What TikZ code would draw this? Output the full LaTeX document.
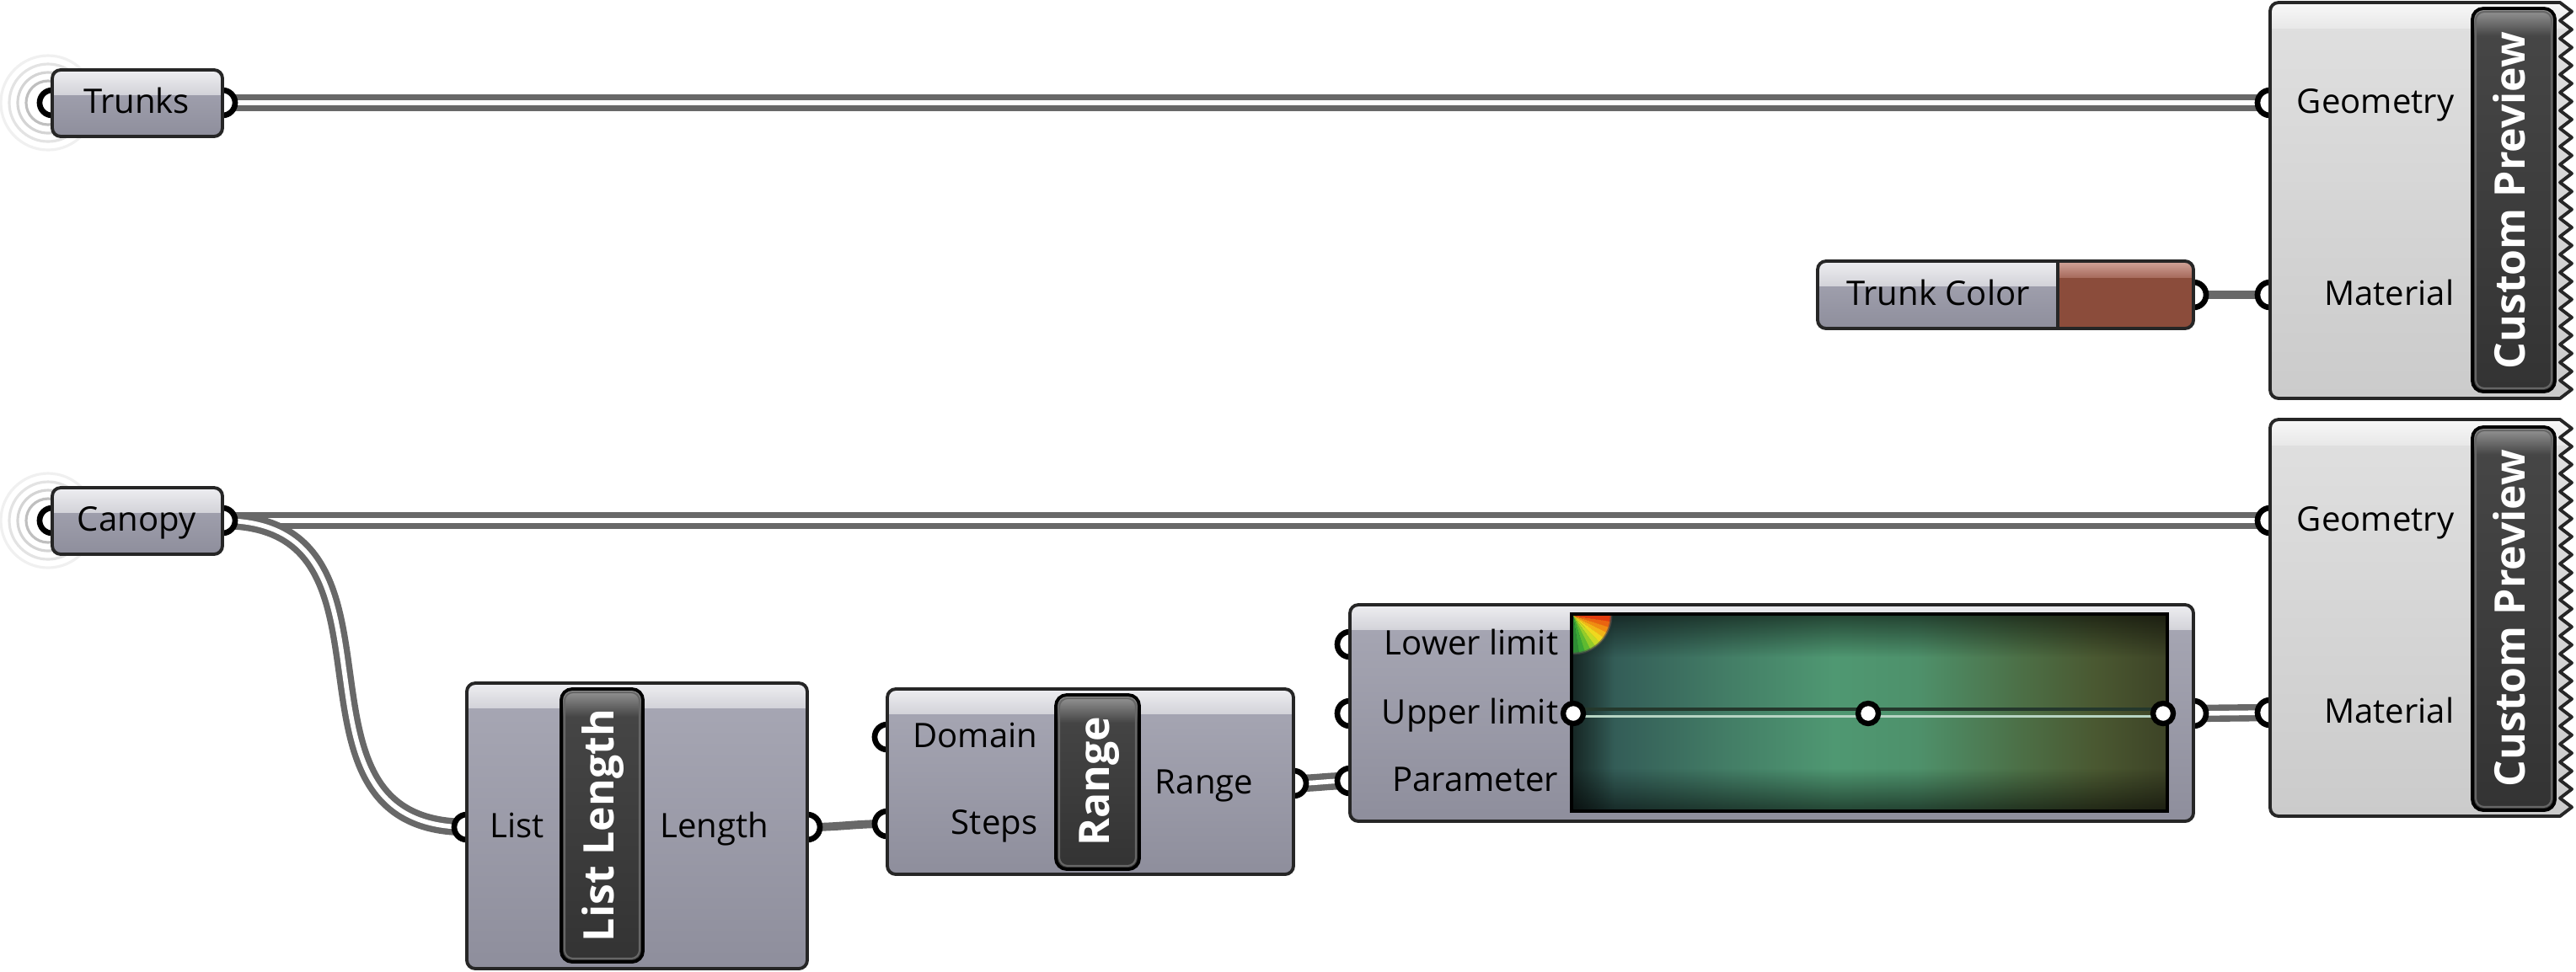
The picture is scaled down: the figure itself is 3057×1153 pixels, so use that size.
\documentclass[tikz,border=0pt]{standalone}
\usepackage{fontspec}
\setmainfont{Open Sans}
\usetikzlibrary{fadings}

\definecolor{wiregray}{HTML}{686868}
\definecolor{edge}{HTML}{262626}
\definecolor{bandtop}{HTML}{EEEEF1}
\definecolor{bandbot}{HTML}{D3D3D9}
\definecolor{bodytop}{HTML}{A8A8B5}
\definecolor{bodybot}{HTML}{8E8E9C}
\definecolor{cpbandtop}{HTML}{F8F8F8}
\definecolor{cpbandbot}{HTML}{E8E8E8}
\definecolor{cpbodytop}{HTML}{E0E0E0}
\definecolor{cpbodybot}{HTML}{CBCBCB}
\definecolor{tbtop}{HTML}{9A9A9A}
\definecolor{tbmid}{HTML}{474747}
\definecolor{tbbot}{HTML}{333333}
\definecolor{swatch}{HTML}{8B4C3B}
\definecolor{swatchtop}{HTML}{D2A69B}
\definecolor{swatchmid}{HTML}{A86C5E}
% colour field of the gradient component
\definecolor{g0}{HTML}{2D4E4A}
\definecolor{g1}{HTML}{345E58}
\definecolor{g2}{HTML}{437D66}
\definecolor{g3}{HTML}{4F9872}
\definecolor{g4}{HTML}{4E916B}
\definecolor{g5}{HTML}{4C6E45}
\definecolor{g6}{HTML}{4A5831}
\definecolor{g7}{HTML}{3D4326}
\definecolor{gdark}{HTML}{24382C}
\definecolor{glight}{HTML}{B7D4C3}
% rainbow corner
\definecolor{rb0}{HTML}{E23C0E}
\definecolor{rb1}{HTML}{EA6410}
\definecolor{rb2}{HTML}{F08C12}
\definecolor{rb3}{HTML}{F2B418}
\definecolor{rb4}{HTML}{EFD81E}
\definecolor{rb5}{HTML}{C8DA24}
\definecolor{rb6}{HTML}{94CC2A}
\definecolor{rb7}{HTML}{5EBA30}
\definecolor{rb8}{HTML}{3AA636}
\definecolor{rb9}{HTML}{2E8C34}

\pgfdeclarehorizontalshading{gradientfield}{100bp}{color(0bp)=(g0); color(25bp)=(g0); color(29bp)=(g1); color(38bp)=(g2); color(47bp)=(g3); color(54bp)=(g4); color(63bp)=(g5); color(69bp)=(g6); color(75bp)=(g7); color(100bp)=(g7)}

\tikzfading[name=edgetop, top color=transparent!45, bottom color=transparent!100]
\tikzfading[name=edgebottom, top color=transparent!100, bottom color=transparent!45]
\tikzfading[name=edgeleft, left color=transparent!50, right color=transparent!100]

\pgfdeclarelayer{bglayer}
\pgfdeclarelayer{wirelayer}
\pgfdeclarelayer{portlayer}
\pgfsetlayers{bglayer,wirelayer,portlayer,main}

\tikzset{
  port/.style={circle, draw=black, fill=white, line width=1.9pt, minimum size=0.3cm, inner sep=0pt},
  grip/.style={circle, draw=black, fill=white, line width=1.8pt, minimum size=0.24cm, inner sep=0pt},
  lbl/.style={font=\fontsize{11.4}{13}\selectfont, inner sep=0pt},
  ttl/.style={font=\fontsize{14.2}{16}\selectfont\bfseries, text=white, rotate=90, inner sep=0pt, anchor=mid},
  listwire/.style={draw=wiregray, line width=2.1pt, double=white, double distance=1.6pt},
  itemwire/.style={draw=wiregray, line width=2.8pt},
  outline/.style={draw=edge, line width=1.1pt},
}

% grey component body with its light top band
\newcommand\gbody[4]{%
  \begin{scope}
    \clip[rounded corners=0.1cm] (#1,#2) rectangle (#3,#4);
    \shade[top color=bodytop, bottom color=bodybot] (#1,#2) rectangle (#3,#4);
    \shade[top color=bandtop, bottom color=bandbot] (#1,#2) rectangle (#3,#2+29);
  \end{scope}
  \draw[outline, rounded corners=0.1cm] (#1,#2) rectangle (#3,#4);
}

% dark vertical title bar
\newcommand\gtitle[4]{%
  \begin{scope}
    \clip[rounded corners=0.13cm] (#1,#2) rectangle (#3,#4);
    \shade[top color=tbmid, bottom color=tbbot] (#1,#2) rectangle (#3,#4);
    \shade[top color=tbtop, bottom color=tbmid] (#1,#2) rectangle (#3,#2+32);
  \end{scope}
  \draw[black!60, line width=0.6pt, rounded corners=0.1cm] (#1+4,#2+4) rectangle (#3-4,#4-4);
  \draw[black, line width=1.1pt, rounded corners=0.13cm] (#1,#2) rectangle (#3,#4);
}

% light preview body with a saw-tooth right edge (left corners rounded)
\newcommand\cppath[2]{(2704,#1) -- (3038,#1)
      \foreach \i in {1,...,22}{ -- (3052,{#1+(\i-0.5)*(#2-#1)/22}) -- (3038,{#1+\i*(#2-#1)/22}) }
      -- (2704,#2) arc[start angle=90, end angle=180, radius=10]
      -- (2694,#1+10) arc[start angle=180, end angle=270, radius=10] -- cycle}
\newcommand\cpbody[2]{%
  \begin{scope}
    \clip \cppath{#1}{#2};
    \shade[top color=cpbodytop, bottom color=cpbodybot] (2690,#1) rectangle (3056,#2);
    \shade[top color=cpbandtop, bottom color=cpbandbot] (2690,#1) rectangle (3056,#1+30);
  \end{scope}
  \draw[outline, line join=round] \cppath{#1}{#2};
}

\begin{document}
\begin{tikzpicture}[x=0.01cm, y=-0.01cm]
\useasboundingbox (0,0) rectangle (3057,1153);
\begin{pgfonlayer}{bglayer}
  \fill[white] (0,0) rectangle (3057,1153);
\end{pgfonlayer}

% ---------- ports (half hidden by the bodies) ----------
\begin{pgfonlayer}{portlayer}
  \foreach \yy in {122,618}{
    \foreach \r/\c in {56/black!6, 46/black!11, 36/black!17, 26/black!25}
      \draw[\c, line width=0.9pt] (57,\yy) circle[radius=\r];
  }
  \node[port] (trunks-in)  at (62,122) {};
  \node[port] (trunks-out) at (264,122) {};
  \node[port] (canopy-in)  at (62,618) {};
  \node[port] (canopy-out) at (264,618) {};
  \node[port] (tc-out)     at (2603,350) {};
  \node[port] (cp1-geo)    at (2694,122) {};
  \node[port] (cp1-mat)    at (2694,350) {};
  \node[port] (cp2-geo)    at (2694,618) {};
  \node[port] (cp2-mat)    at (2694,846) {};
  \node[port] (ll-in)      at (554,982) {};
  \node[port] (ll-out)     at (958,982) {};
  \node[port] (rg-dom)     at (1053,875) {};
  \node[port] (rg-steps)   at (1053,978) {};
  \node[port] (rg-out)     at (1535,930) {};
  \node[port] (gr-lo)      at (1602,765) {};
  \node[port] (gr-up)      at (1602,847) {};
  \node[port] (gr-par)     at (1602,927) {};
  \node[port] (gr-out)     at (2603,847) {};
\end{pgfonlayer}

% ---------- wires ----------
\begin{pgfonlayer}{wirelayer}
  \draw[listwire] (trunks-out.center) -- (cp1-geo.center);
  \draw[itemwire] (tc-out.center) -- (cp1-mat.center);
  \draw[listwire] (canopy-out.center) -- (cp2-geo.center);
  \draw[listwire] (canopy-out.center) .. controls +(240,0) and +(-240,0) .. (ll-in.center);
  \draw[itemwire] (ll-out.center) .. controls +(40,0) and +(-40,0) .. (rg-steps.center);
  \draw[listwire] (rg-out.center) .. controls +(30,0) and +(-30,0) .. (gr-par.center);
  \draw[listwire] (gr-out.center) -- (cp2-mat.center);
\end{pgfonlayer}

% ---------- Trunks / Canopy parameters ----------
\gbody{62}{83}{264}{162}
\node[lbl, anchor=mid] (trunks) at (162,125) {Trunks};
\gbody{62}{579}{264}{658}
\node[lbl, anchor=mid] (canopy) at (162,621) {Canopy};

% ---------- Trunk Color swatch ----------
\begin{scope}
  \clip[rounded corners=0.1cm] (2157,310) rectangle (2603,390);
  \shade[top color=bodytop, bottom color=bodybot] (2157,310) rectangle (2603,390);
  \shade[top color=bandtop, bottom color=bandbot] (2157,310) rectangle (2603,339);
  \fill[swatch] (2442,310) rectangle (2603,390);
  \shade[top color=swatchtop, bottom color=swatchmid] (2442,310) rectangle (2603,329);
\end{scope}
\draw[outline] (2442,310) -- (2442,390);
\draw[outline, rounded corners=0.1cm] (2157,310) rectangle (2603,390);
\node[lbl, anchor=mid] (trunkcolor) at (2300,353) {Trunk Color};

% ---------- Custom Preview (trunks) ----------
\cpbody{3}{473}
\gtitle{2934}{10}{3032}{465}
\node[ttl] (cp1-title) at (2987,238) {Custom Preview};
\node[lbl, anchor=mid east] (cp1-geo-l) at (2913,125) {Geometry};
\node[lbl, anchor=mid east] (cp1-mat-l) at (2913,353) {Material};

% ---------- Custom Preview (canopy) ----------
\cpbody{498}{969}
\gtitle{2934}{507}{3032}{962}
\node[ttl] (cp2-title) at (2987,734) {Custom Preview};
\node[lbl, anchor=mid east] (cp2-geo-l) at (2913,621) {Geometry};
\node[lbl, anchor=mid east] (cp2-mat-l) at (2913,849) {Material};

% ---------- List Length ----------
\gbody{554}{811}{958}{1150}
\gtitle{666}{818}{763}{1142}
\node[ttl] (ll-title) at (719,980) {List Length};
\node[lbl, anchor=mid] (ll-in-l) at (614,985) {List};
\node[lbl, anchor=mid] (ll-out-l) at (848,985) {Length};

% ---------- Range ----------
\gbody{1053}{818}{1535}{1038}
\gtitle{1253}{825}{1352}{1032}
\node[ttl] (rg-title) at (1307,928) {Range};
\node[lbl, anchor=mid east] (rg-dom-l) at (1232,878) {Domain};
\node[lbl, anchor=mid east] (rg-steps-l) at (1232,981) {Steps};
\node[lbl, anchor=mid] (rg-out-l) at (1429,933) {Range};

% ---------- Gradient ----------
\gbody{1602}{718}{2603}{975}
\node[lbl, anchor=mid east] (gr-lo-l) at (1850,768) {Lower limit};
\node[lbl, anchor=mid east] (gr-up-l) at (1850,850) {Upper limit};
\node[lbl, anchor=mid east] (gr-par-l) at (1850,930) {Parameter};
\shade[shading=gradientfield] (1865,729) rectangle (2572,963);
\fill[black, path fading=edgetop] (1865,729) rectangle (2572,780);
\fill[black, path fading=edgebottom] (1865,912) rectangle (2572,963);
\fill[black, path fading=edgeleft] (1865,729) rectangle (1915,963);
\foreach \a/\c in {0/rb0, 9/rb1, 18/rb2, 27/rb3, 36/rb4, 45/rb5, 54/rb6, 63/rb7, 72/rb8, 81/rb9}
  \fill[\c] (1867,731) -- ++(\a:45) arc[start angle=\a, end angle=\a+9.5, radius=45] -- cycle;
\draw[black!70, line width=0.8pt, opacity=0.6] (1912,731) arc[start angle=0, end angle=90, radius=45];
\draw[black, line width=1pt] (1865,729) rectangle (2572,963);
\coordinate (gl) at (1867,847);
\coordinate (gm) at (2217,847);
\coordinate (gr) at (2567,847);
\draw[gdark, line width=1.2pt] ([yshift=1.4pt]gl) -- ([yshift=1.4pt]gr);
\draw[glight, line width=0.9pt] ([yshift=-0.9pt]gl) -- ([yshift=-0.9pt]gr);
\node[grip] (grip-l) at (gl) {};
\node[grip] (grip-m) at (gm) {};
\node[grip] (grip-r) at (gr) {};
\end{tikzpicture}
\end{document}
